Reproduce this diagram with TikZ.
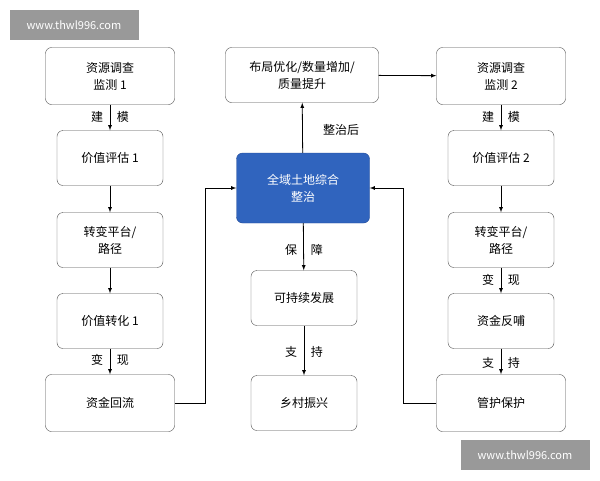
\documentclass[tikz,border=0pt]{standalone}
\usepackage{fontspec}
\setmainfont{Noto Sans CJK SC}
\usepackage{tikz}
\usetikzlibrary{positioning}

\definecolor{coreblue}{RGB}{48,100,190}
\definecolor{coreedge}{RGB}{35,75,150}
\tikzset{
  box/.style={draw=black!70, rounded corners=6pt, align=center, font=\fontsize{12}{17}\selectfont, inner sep=2pt},
  bigbox/.style={box, minimum width=129pt, minimum height=57pt},
  smallbox/.style={box, minimum width=106pt, minimum height=55pt},
  lbl/.style={font=\fontsize{12}{14}\selectfont},
  wm/.style={fill=black!40, text=white, font=\fontsize{11}{13}\selectfont, minimum width=129pt, minimum height=30pt},
}

\begin{document}
\begin{tikzpicture}[x=1pt, y=-1pt]
  \useasboundingbox (0,0) rectangle (600,480);
  \node[wm] (wm1) at (74,25) {www.thwl996.com};
  \node[wm] (wm2) at (525,455) {www.thwl996.com};

  % left column
  \node[bigbox] (l1) at (110,76) {资源调查\\监测 1};
  \node[smallbox] (l2) at (110,158) {价值评估 1};
  \node[smallbox] (l3) at (110,240) {转变平台/\\路径};
  \node[smallbox] (l4) at (110,321) {价值转化 1};
  \node[bigbox] (l5) at (110,403) {资金回流};

  % middle column
  \node[box, minimum width=153pt, minimum height=55pt] (m1) at (302,75) {布局优化/数量增加/\\质量提升};
  \node[box, fill=coreblue, text=white, draw=coreedge, minimum width=133pt, minimum height=70pt] (m2) at (303,188) {全域土地综合\\整治};
  \node[smallbox] (m3) at (304,298) {可持续发展};
  \node[smallbox] (m4) at (304,403) {乡村振兴};

  % right column
  \node[bigbox] (r1) at (501,76) {资源调查\\监测 2};
  \node[smallbox] (r2) at (501,158) {价值评估 2};
  \node[smallbox] (r3) at (501,240) {转变平台/\\路径};
  \node[smallbox] (r4) at (501,321) {资金反哺};
  \node[bigbox] (r5) at (501,403) {管护保护};

  \path[-latex, thick]
    (l1) edge (l2)
    (l2) edge (l3)
    (l3) edge (l4)
    (l4) edge (l5)
    (m2) edge (m1)
    (m1) edge (r1)
    (m2) edge (m3)
    (m3) edge (m4)
    (r1) edge (r2)
    (r2) edge (r3)
    (r3) edge (r4)
    (r4) edge (r5);
  \draw[-latex, thick] (l5.east) -| (205,188) -- (m2.west);
  \draw[-latex, thick] (r5.west) -| (403,188) -- (m2.east);

  \node[lbl] (t1) at (110,117) {建\hspace{14pt}模};
  \node[lbl] (t2) at (110,360) {变\hspace{14pt}现};
  \node[lbl] (t3) at (341,130) {整治后};
  \node[lbl] (t4) at (304,250) {保\hspace{14pt}障};
  \node[lbl] (t5) at (304,352) {支\hspace{14pt}持};
  \node[lbl] (t6) at (501,117) {建\hspace{14pt}模};
  \node[lbl] (t7) at (501,280) {变\hspace{14pt}现};
  \node[lbl] (t8) at (501,363) {支\hspace{14pt}持};
\end{tikzpicture}
\end{document}
